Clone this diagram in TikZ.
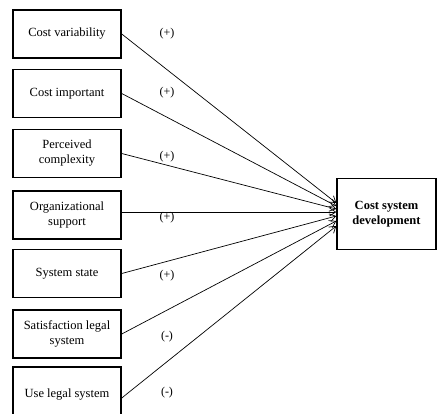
\documentclass[tikz,border=0pt]{standalone}
\usepackage{fontspec}
\setmainfont{Liberation Serif}
\usetikzlibrary{arrows.meta}
\begin{document}
\begin{tikzpicture}[x=1pt,y=-1pt,
  box/.style={draw,line width=1.5pt,minimum width=108pt,minimum height=48pt,align=center,inner sep=2pt,font=\fontsize{12.5}{15}\selectfont},
  target/.style={draw,line width=1.5pt,minimum width=99pt,minimum height=71pt,align=center,font=\fontsize{12.5}{15}\selectfont\bfseries},
  sign/.style={font=\fontsize{12}{14}\selectfont},
  arr/.style={line width=0.7pt,-{Straight Barb[length=6pt,width=8pt,line width=0.7pt]}}]
\useasboundingbox (0,0) rectangle (437,413);
\node[box] (b1) at (67,34) {Cost variability};
\node[box] (b2) at (67,93.5) {Cost important};
\node[box] (b3) at (67,153.5) {Perceived\\complexity};
\node[box] (b4) at (67,215) {Organizational\\support};
\node[box] (b5) at (67,273.5) {System state};
\node[box] (b6) at (67,334) {Satisfaction legal\\system};
\node[box,minimum height=56pt] (b7) at (67,395) {Use legal system};
\node[target] (t) at (386.5,214) {Cost system\\development};
\node[sign] (s1) at (167,34) {(+)};
\node[sign] (s2) at (167,93) {(+)};
\node[sign] (s3) at (167,157) {(+)};
\node[sign] (s4) at (167,218) {(+)};
\node[sign] (s5) at (167,276) {(+)};
\node[sign] (s6) at (167,337) {(-)};
\node[sign] (s7) at (167,393) {(-)};
\draw[arr] (b1.east) -- ([yshift=11pt]t.west);
\draw[arr] (b2.east) -- ([yshift=8pt]t.west);
\draw[arr] (b3.east) -- ([yshift=5pt]t.west);
\draw[arr] ([yshift=3pt]b4.east) -- ([yshift=2pt]t.west);
\draw[arr] (b5.east) -- ([yshift=-2pt]t.west);
\draw[arr] (b6.east) -- ([yshift=-7pt]t.west);
\draw[arr] ([yshift=-3pt]b7.east) -- ([yshift=-12pt]t.west);
\end{tikzpicture}
\end{document}
